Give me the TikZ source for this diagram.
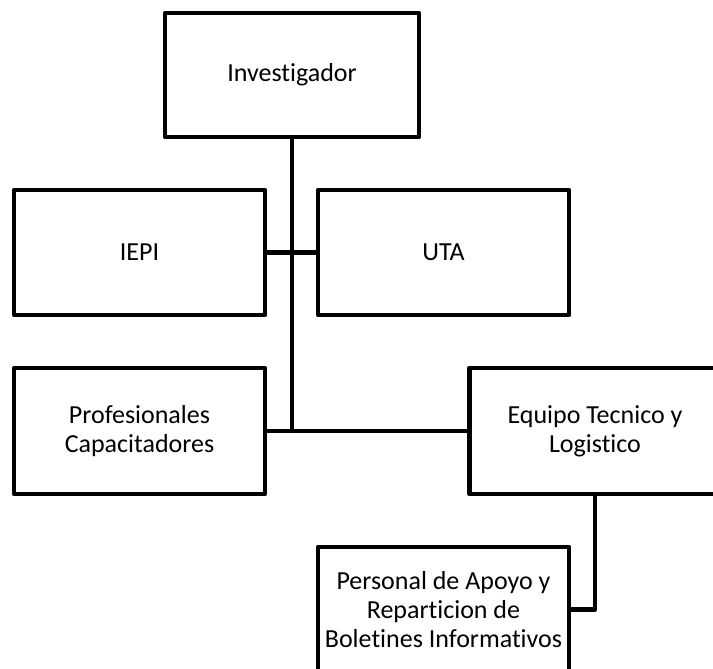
\documentclass[tikz,border=0pt]{standalone}
\usepackage{fontspec}
\setmainfont[Ligatures=NoCommon]{Carlito}
\begin{document}
\begin{tikzpicture}[x=1pt,y=-1pt,
	caja/.style={draw,line width=4.5pt,line join=round,align=center,
		minimum width=251pt,minimum height=125pt,inner sep=0pt,
		font=\fontsize{26}{29}\selectfont},
	linea/.style={line width=4.5pt,line join=round}]
		\useasboundingbox (0,0) rectangle (713,669);

		\node[caja,minimum width=254pt,minimum height=124pt] (inv) at (292,75){Investigador};

		\node[caja] (iepi) at (139.5,252.5){IEPI};
		\node[caja] (uta) at (443.5,252.5){UTA};

		\node[caja,minimum height=126pt] (prof) at (139.5,431){Profesionales\\Capacitadores};
		\node[caja,minimum height=126pt] (equipo) at (595,431){Equipo Tecnico y\\Logistico};

		\node[caja] (personal) at (443.5,609.5){Personal de Apoyo y\\Reparticion de\\Boletines Informativos};

		\draw[linea] (inv.south)--(inv.south |- prof.east);
		\draw[linea] (iepi.east)--(uta.west);
		\draw[linea] (prof.east)--(equipo.west);
		\draw[linea] (equipo.south)--(equipo.south |- personal.east)--(personal.east);
	\end{tikzpicture}
\end{document}
